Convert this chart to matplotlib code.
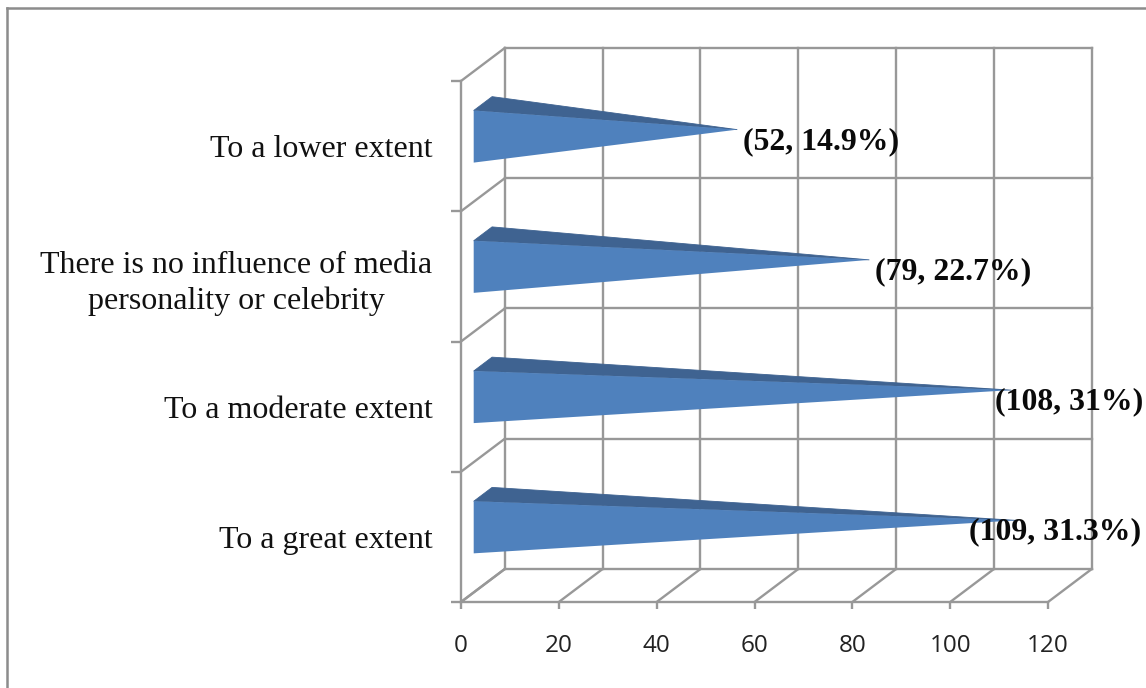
import matplotlib
matplotlib.use('Agg')
import matplotlib.pyplot as plt
from matplotlib.lines import Line2D
from matplotlib.patches import Polygon

categories = ['To a great extent', 'To a moderate extent',
              'There is no influence of media\npersonality or celebrity', 'To a lower extent']
counts = [109, 108, 79, 52]
percents = [31.3, 31, 22.7, 14.9]
x_ticks = [0, 20, 40, 60, 80, 100, 120]

# depth of the 3d box, in axis units
DEPTH_X = 8.95
DEPTH_Y = 0.2534
GRID = '#989898'
FRONT = '#4f81bd'
TOP = '#3f6391'

def project(v, c, d):
    return v + d * DEPTH_X, c + d * DEPTH_Y

W, H = 1146, 688
fig = plt.figure(figsize=(W / 100, H / 100), dpi=100, facecolor='white')
ax = fig.add_axes([461 / W, (H - 602) / H, 587 / W, 521 / H])
ax.set_xlim(0, 120)
ax.set_ylim(0, len(categories))
ax.patch.set_visible(False)

for s in ['top', 'right']:
    ax.spines[s].set_visible(False)
for s in ['left', 'bottom']:
    ax.spines[s].set_color(GRID)
    ax.spines[s].set_linewidth(1.7)

ax.set_xticks(x_ticks)
ax.tick_params(axis='x', length=5, width=1.7, color=GRID, pad=18, labelsize=17.5, labelcolor='#222222')
for t in ax.get_xticklabels():
    t.set_fontfamily('Open Sans')

ax.set_yticks(range(len(categories) + 1))
ax.set_yticklabels([])
ax.tick_params(axis='y', which='major', length=7, width=1.7, color=GRID)
ax.set_yticks([i + 0.5 for i in range(len(categories))], minor=True)
ax.set_yticklabels(categories, minor=True, fontfamily='Liberation Serif', fontsize=23,
                   color='#111111', multialignment='center', linespacing=1.3)
ax.tick_params(axis='y', which='minor', length=0, pad=20.5)

def box_line(p, q):
    ax.plot([p[0], q[0]], [p[1], q[1]], color=GRID, lw=1.7, clip_on=False, zorder=1,
            solid_capstyle='projecting')

# back wall and floor
top = len(categories)
for v in x_ticks:
    box_line(project(v, 0, 1), project(v, top, 1))
    box_line(project(v, 0, 0), project(v, 0, 1))
for c in range(top + 1):
    box_line(project(0, c, 1), project(120, c, 1))
    box_line(project(0, c, 0), project(0, c, 1))

# pyramids: the base sits at zero, the apex reaches the value at mid depth
half = 0.2
near, far = 0.29, 0.71
label_shift = [-47, -16, 6, 6]
for i, (n, p) in enumerate(zip(counts, percents)):
    c = i + 0.5
    apex = project(n, c, 0.5)
    # thin edge on the top face closes the seam against the front face
    ax.add_patch(Polygon([project(0, c + half, near), project(0, c + half, far), apex],
                         closed=True, fc=TOP, ec=TOP, lw=0.6, clip_on=False, zorder=3))
    ax.add_patch(Polygon([project(0, c + half, near), project(0, c - half, near), apex],
                         closed=True, fc=FRONT, ec='none', clip_on=False, zorder=4))
    ax.annotate(f'({n}, {p:g}%)', xy=apex, xytext=(label_shift[i] * 0.72, -8.5), textcoords='offset points',
                ha='left', va='center', fontfamily='Liberation Serif', fontweight='bold',
                fontsize=22.9, color='#0a0a0a', zorder=5, annotation_clip=False)

# chart area border
for xs, ys in [([7 / W, 7 / W], [0, 1 - 8 / H]), ([7 / W, 1], [1 - 8 / H, 1 - 8 / H])]:
    fig.add_artist(Line2D(xs, ys, color='#8c8c8c', lw=1.8))

fig.savefig('out.png', dpi=100)
